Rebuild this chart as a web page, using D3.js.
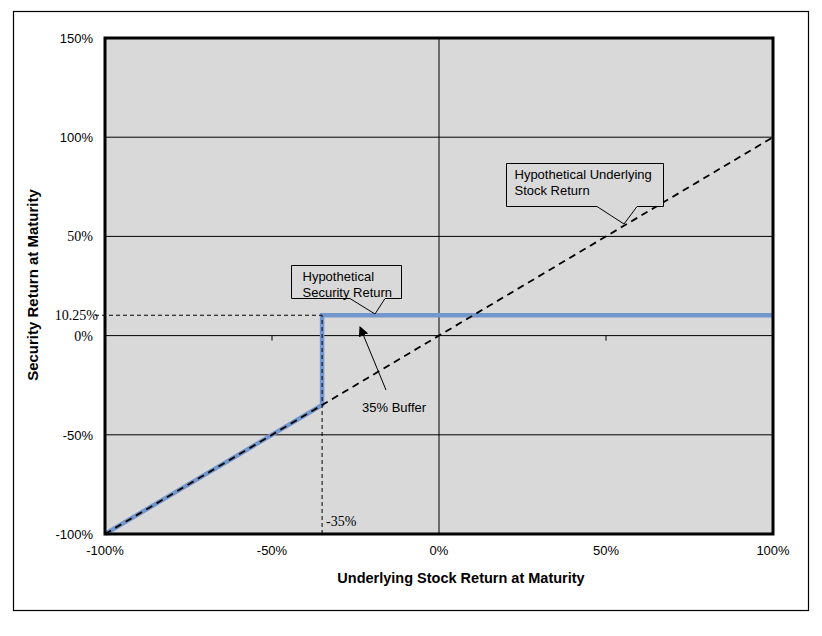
<!DOCTYPE html>
<html><head><meta charset="utf-8">
<script src="https://cdn.jsdelivr.net/npm/d3@7"></script>
<style>body{margin:0;background:#fff}</style>
</head><body>
<svg id="c" width="822" height="636"></svg>
<script>
const xTicks = [-100, -50, 0, 50, 100];
const yTicks = [-100, -50, 0, 50, 100, 150];
const yGrid = [-50, 0, 50, 100];
const underlying = [[-100, -100], [100, 100]];
const security = [[-100, -100], [-35, -35], [-35, 10.25], [100, 10.25]];
const bufferLevel = -35;
const capReturn = 10.25;
const serifLabels = [50, 0];

const svg = d3.select("#c");
const L = 105, R = 773, T = 38, B = 534;
const x = d3.scaleLinear().domain([-100, 100]).range([L, R]);
const y = d3.scaleLinear().domain([-100, 150]).range([B, T]);
const sans = "Arial, 'Liberation Sans', sans-serif";
const serif = "'Times New Roman', 'Liberation Serif', serif";

svg.append("rect").attr("x", 13.5).attr("y", 11.5).attr("width", 795).attr("height", 599)
  .attr("fill", "#fff").attr("stroke", "#000").attr("stroke-width", 1.2);
svg.append("rect").attr("x", L).attr("y", T).attr("width", R - L).attr("height", B - T).attr("fill", "#d9d9d9");

svg.selectAll(".hg").data(yGrid).join("line")
  .attr("x1", L).attr("x2", R).attr("y1", d => y(d)).attr("y2", d => y(d))
  .attr("stroke", "#000").attr("stroke-width", 1);
svg.append("line").attr("x1", x(0)).attr("x2", x(0)).attr("y1", T).attr("y2", B)
  .attr("stroke", "#000").attr("stroke-width", 1);
svg.selectAll(".tk").data([-50, 50]).join("line")
  .attr("x1", d => x(d)).attr("x2", d => x(d)).attr("y1", y(0)).attr("y2", y(0) + 5)
  .attr("stroke", "#000").attr("stroke-width", 1);

const line = d3.line().x(d => x(d[0])).y(d => y(d[1]));

svg.append("path").attr("d", line(security)).attr("fill", "none")
  .attr("stroke", "#7397cc").attr("stroke-width", 4.5).attr("stroke-linejoin", "miter");

svg.append("path").attr("d", line(underlying)).attr("fill", "none")
  .attr("stroke", "#000").attr("stroke-width", 1.8).attr("stroke-dasharray", "7,5");
svg.append("line").attr("x1", x(bufferLevel)).attr("x2", x(bufferLevel)).attr("y1", B).attr("y2", y(capReturn))
  .attr("stroke", "#000").attr("stroke-width", 1).attr("stroke-dasharray", "4,3");
svg.append("line").attr("x1", L - 10).attr("x2", x(bufferLevel)).attr("y1", y(capReturn)).attr("y2", y(capReturn))
  .attr("stroke", "#000").attr("stroke-width", 1).attr("stroke-dasharray", "4,3");

svg.append("rect").attr("x", L).attr("y", T).attr("width", R - L).attr("height", B - T)
  .attr("fill", "none").attr("stroke", "#000").attr("stroke-width", 3);

svg.selectAll(".yl").data(yTicks).join("text")
  .attr("x", 93).attr("y", d => y(d) + 5).attr("text-anchor", "end")
  .attr("font-family", d => serifLabels.includes(d) ? serif : sans)
  .attr("font-size", d => serifLabels.includes(d) ? 14 : 13)
  .text(d => d + "%");
svg.append("text").attr("x", 98).attr("y", y(capReturn) + 5).attr("text-anchor", "end")
  .attr("font-family", serif).attr("font-size", 14).text(capReturn + "%");
svg.selectAll(".xl").data(xTicks).join("text")
  .attr("x", d => x(d)).attr("y", 555).attr("text-anchor", "middle")
  .attr("font-family", sans).attr("font-size", 13).text(d => d + "%");
svg.append("text").attr("x", x(bufferLevel) + 4).attr("y", 526)
  .attr("font-family", serif).attr("font-size", 14).text(bufferLevel + "%");

svg.append("text").attr("x", x(0) + 22).attr("y", 583).attr("text-anchor", "middle")
  .attr("font-family", sans).attr("font-size", 14.5).attr("font-weight", "bold")
  .text("Underlying Stock Return at Maturity");
svg.append("text").attr("transform", `translate(38,285) rotate(-90)`).attr("text-anchor", "middle")
  .attr("font-family", sans).attr("font-size", 15).attr("font-weight", "bold")
  .text("Security Return at Maturity");

function callout(bx, by, bw, bh, p1, p2, tip, pad, lines) {
  const path = `M${bx},${by} H${bx + bw} V${by + bh} H${p2} L${tip[0]},${tip[1]} L${p1},${by + bh} H${bx} Z`;
  svg.append("path").attr("d", path).attr("fill", "#d9d9d9").attr("stroke", "#000").attr("stroke-width", 1);
  lines.forEach((t, i) => svg.append("text").attr("x", bx + pad).attr("y", by + 15 + i * 16)
    .attr("font-family", sans).attr("font-size", 13).text(t));
}
callout(291.5, 265.5, 110, 33, 350, 385, [375, 314], 11, ["Hypothetical", "Security Return"]);
callout(506.5, 163.5, 157, 43, 597, 637, [624, 224], 8, ["Hypothetical Underlying", "Stock Return"]);

svg.append("defs").append("marker").attr("id", "ah").attr("viewBox", "0 0 10 10")
  .attr("refX", 9).attr("refY", 5).attr("markerWidth", 10).attr("markerHeight", 10)
  .attr("markerUnits", "userSpaceOnUse").attr("orient", "auto")
  .append("path").attr("d", "M0,0 L10,5 L0,10 Z").attr("fill", "#000");
svg.append("line").attr("x1", 386).attr("y1", 390).attr("x2", 360).attr("y2", 327)
  .attr("stroke", "#000").attr("stroke-width", 1).attr("marker-end", "url(#ah)");
svg.append("text").attr("x", 362).attr("y", 412).attr("font-family", sans).attr("font-size", 13).text("35% Buffer");
</script>
</body></html>
